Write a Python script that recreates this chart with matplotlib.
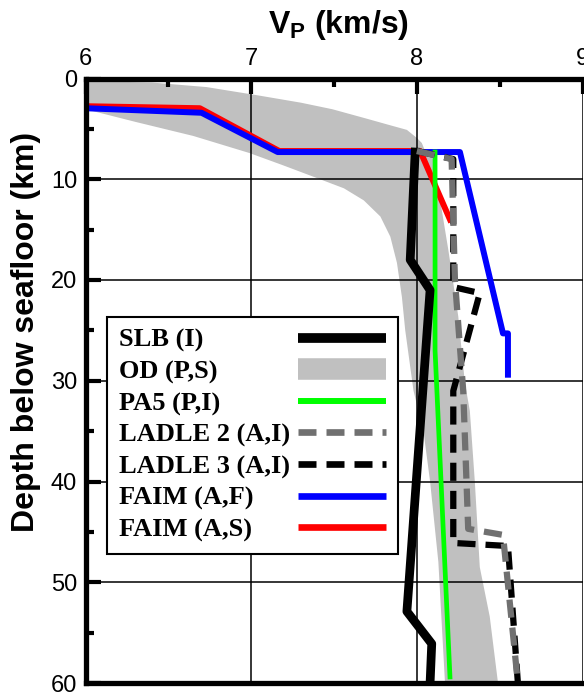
import matplotlib
matplotlib.use("Agg")
import matplotlib.pyplot as plt
from matplotlib.lines import Line2D
from matplotlib.font_manager import FontProperties

plt.rcParams['font.family'] = ['Liberation Sans', 'DejaVu Sans']
plt.rcParams['mathtext.fontset'] = 'custom'
plt.rcParams['mathtext.rm'] = 'Liberation Sans'
plt.rcParams['mathtext.bf'] = 'Liberation Sans:bold'

# ---------------- data (Vp in km/s, depth in km) ----------------
slb_v = [7.99, 7.96, 8.08, 7.94, 8.09, 8.08]
slb_z = [7.3, 18.0, 21.0, 52.9, 56.1, 60.0]

od_upper_v = [5.9, 6.0, 6.4, 6.73, 7.05, 7.3, 7.49, 7.7, 7.83, 7.94, 8.0, 8.03, 8.05]
od_upper_z = [0.25, 0.25, 0.4, 0.85, 1.7, 2.4, 3.05, 4.0, 4.6, 5.1, 5.9, 6.4, 7.2]
od_right_v = [8.1, 8.14, 8.19, 8.25, 8.29, 8.32, 8.35, 8.38, 8.44, 8.49, 8.5]
od_right_z = [8.0, 12.0, 17.0, 23.6, 30.2, 33.0, 40.0, 48.5, 53.4, 60.0, 61.0]
od_left_v = [5.9, 6.0, 6.3, 6.65, 6.99, 7.19, 7.40, 7.56, 7.68, 7.78, 7.84, 7.88,
             7.91, 7.93, 7.98, 8.04, 8.08, 8.13, 8.17, 8.17]
od_left_z = [3.0, 3.05, 4.3, 5.7, 7.4, 8.6, 9.9, 10.9, 12.1, 13.7, 15.7, 18.3,
             21.7, 25.0, 31.0, 35.0, 40.0, 48.0, 60.0, 61.0]

pa5_v = [8.11, 8.11, 8.20]
pa5_z = [7.3, 27.0, 59.4]

ladle2_v = [8.0, 8.21, 8.23, 8.28, 8.31, 8.52, 8.61]
ladle2_z = [7.2, 8.0, 20.0, 31.0, 44.7, 45.3, 60.0]

ladle3_v = [8.0, 8.22, 8.22, 8.38, 8.26, 8.22, 8.22, 8.55, 8.61]
ladle3_z = [7.2, 8.0, 20.7, 21.3, 28.6, 31.0, 46.1, 46.4, 60.0]

faim_f_v = [6.0, 6.70, 7.16, 8.26, 8.52, 8.55, 8.55]
faim_f_z = [2.95, 3.4, 7.3, 7.3, 25.3, 25.3, 29.4]

faim_s_v = [6.0, 6.69, 7.17, 8.02, 8.20]
faim_s_z = [2.75, 2.95, 7.2, 7.2, 14.0]

labels = ['SLB (I)', 'OD (P,S)', 'PA5 (P,I)', 'LADLE 2 (A,I)',
          'LADLE 3 (A,I)', 'FAIM (A,F)', 'FAIM (A,S)']

x_ticks = [6, 7, 8, 9]
y_ticks = [0, 10, 20, 30, 40, 50, 60]

# ---------------- figure ----------------
fig = plt.figure(figsize=(5.84, 6.93), dpi=100)
ax = fig.add_axes([85.5 / 584, 1 - 683 / 693, 497 / 584, 604.5 / 693])

# OD band
poly_v = od_upper_v + od_right_v + od_left_v[::-1]
poly_z = od_upper_z + od_right_z + od_left_z[::-1]
ax.fill(poly_v, poly_z, color='#c0c0c0', lw=0, zorder=0.5)

ax.plot(faim_s_v, faim_s_z, color='#ff0000', lw=4.3, zorder=2.0)
ax.plot(faim_f_v, faim_f_z, color='#0000ff', lw=4.3, zorder=2.1)
ax.plot(pa5_v, pa5_z, color='#00ff00', lw=3.4, zorder=2.15)
ax.plot(slb_v, slb_z, color='black', lw=6.3, zorder=2.2)
ax.plot(ladle3_v, ladle3_z, color='black', lw=4.5, dashes=(2.9, 1.6), zorder=2.3)
ax.plot(ladle2_v, ladle2_z, color='#707070', lw=4.5, dashes=(2.9, 1.6), zorder=2.4)

ax.set_xlim(6, 9)
ax.set_ylim(60, 0)
ax.set_xticks(x_ticks)
ax.set_yticks(y_ticks)
ax.set_xticks([6.5, 7.5, 8.5], minor=True)
ax.set_yticks([5, 15, 25, 35, 45, 55], minor=True)
ax.xaxis.tick_top()
ax.xaxis.set_label_position('top')
ax.tick_params(which='major', direction='in', length=11, width=3, labelsize=17,
               pad=6, color='black')
ax.tick_params(which='minor', direction='in', length=6, width=3, color='black')
ax.tick_params(axis='x', which='both', top=True, bottom=False)
ax.tick_params(axis='y', which='both', left=True, right=False)
ax.grid(True, which='major', color='black', lw=1.1)

for s in ['left', 'top', 'bottom']:
    ax.spines[s].set_linewidth(3.8)
ax.spines['right'].set_visible(False)

ax.set_xlabel(r'$\mathbf{V_P}$ (km/s)', fontsize=23, fontweight='bold')
ax.xaxis.set_label_coords(0.51, 1.075)
ax.set_ylabel('Depth below seafloor (km)', fontsize=23, fontweight='bold')
ax.yaxis.set_label_coords(-0.09, 0.581)

handles = [
    Line2D([], [], color='black', lw=7),
    Line2D([], [], color='#c0c0c0', lw=15.5, solid_capstyle='butt'),
    Line2D([], [], color='#00ff00', lw=4.3),
    Line2D([], [], color='#707070', lw=4.8, dashes=(2.7, 1.5)),
    Line2D([], [], color='black', lw=4.8, dashes=(2.7, 1.5)),
    Line2D([], [], color='#0000ff', lw=4.8),
    Line2D([], [], color='#ff0000', lw=4.8),
]
for h in handles:
    h.set_solid_capstyle('butt')
    h.set_dash_capstyle('butt')

lp = FontProperties(family='Liberation Serif', weight='bold', size=19)
leg = ax.legend(handles, labels, prop=lp, loc='upper left',
                bbox_to_anchor=(0.043, 0.606), borderaxespad=0,
                markerfirst=False, handlelength=3.34, handletextpad=0.3,
                labelspacing=0.29, borderpad=0.45, fancybox=False,
                framealpha=1, edgecolor='black')
leg.get_frame().set_linewidth(1.5)
leg.set_zorder(5)

# left-align the label texts while keeping handles right-aligned
fig.canvas.draw()
r = fig.canvas.get_renderer()
col = leg._legend_handle_box.get_children()[0]
items = col.get_children()
widths = [it.get_children()[0].get_window_extent(r).width for it in items]
mw = max(widths)
for it, w in zip(items, widths):
    it.sep = leg.handletextpad * leg._fontsize + (mw - w) * 72 / fig.dpi

fig.savefig('out.png', dpi=100)
